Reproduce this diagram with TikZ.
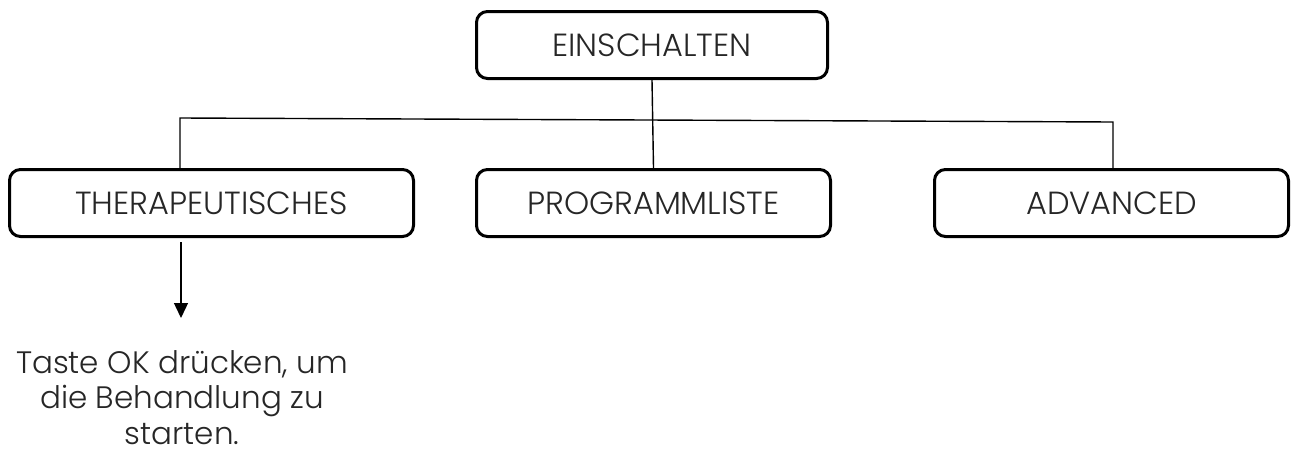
\documentclass[tikz,border=0pt]{standalone}
\usepackage{fontspec}
\IfFontExistsTF{Poppins Light}{\setmainfont{Poppins Light}}{\setmainfont{Poppins}}
\usetikzlibrary{arrows.meta}
\tikzset{
  box/.style={draw=black, line width=3pt, rounded corners=11pt, inner sep=0pt,
    minimum height=67pt, font=\fontsize{32}{36}\selectfont, text=black!85},
  conn/.style={draw=black, line width=1.4pt},
  note/.style={align=center, inner sep=0pt, font=\fontsize{31}{35.5}\selectfont, text=black!85}
}
\begin{document}
\begin{tikzpicture}[x=1pt,y=-1pt]
\useasboundingbox (0,0) rectangle (1292,463);
\node[box, minimum width=351pt] (e) at (652,45) {EINSCHALTEN};
\node[box, minimum width=404pt] (t) at (211.5,203) {THERAPEUTISCHES};
\node[box, minimum width=354pt] (p) at (653.5,203) {PROGRAMMLISTE};
\node[box, minimum width=354pt] (a) at (1111.5,203) {ADVANCED};
\coordinate (hl) at (180,118);
\coordinate (hr) at (1113,122);
\draw[conn] (e.south) -- (p.north);
\draw[conn] (hl |- t.north) -- (hl) -- (hr) -- (hr |- a.north);
\coordinate (as) at (181,242);
\coordinate (ae) at (181,318);
\node[note, anchor=north] (n) at (182,350) {Taste OK drücken, um\\die Behandlung zu\\starten.};
\draw[conn, -{Triangle[length=15pt,width=14pt]}] (as) -- (ae);
\end{tikzpicture}
\end{document}
